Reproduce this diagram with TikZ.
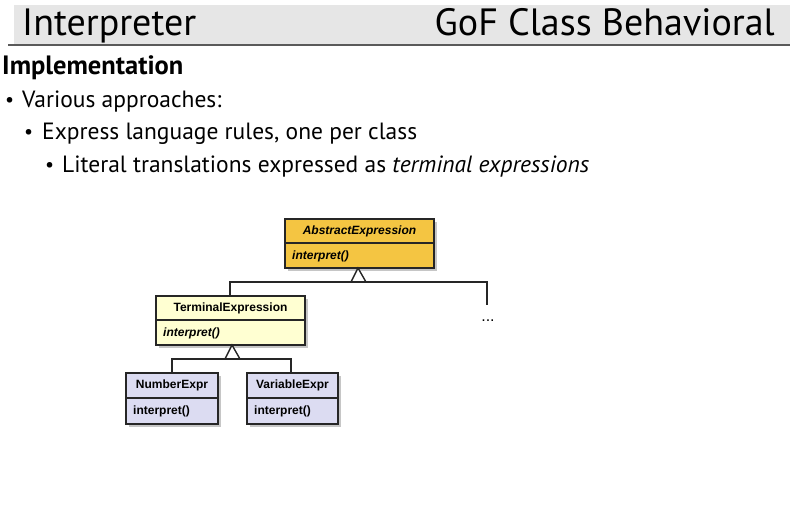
\documentclass[tikz,border=0pt]{standalone}
\usepackage{fontspec}
\setmainfont{PT Sans}
\newfontfamily\umlfont{Liberation Sans}
\definecolor{hdrgray}{HTML}{E6E6E6}
\definecolor{hdrline}{HTML}{5A5A5A}
\definecolor{absfill}{HTML}{F4C542}
\definecolor{termfill}{HTML}{FFFFD2}
\definecolor{leaffill}{HTML}{DCDCF2}
\definecolor{shadowgray}{HTML}{A0A0A0}
\tikzset{
  umlbox/.style={draw=black!85, line width=1.3pt},
  shadowbox/.style={fill=shadowgray, opacity=0.6},
  umltext/.style={font=\umlfont\fontsize{12}{14}\selectfont\bfseries, inner sep=0pt},
  conn/.style={draw=black!85, line width=1.4pt},
  bodytext/.style={anchor=base west, inner sep=0pt, font=\fontsize{23.5}{27}\selectfont},
  bulletmark/.style={anchor=base west, inner sep=0pt, font=\fontsize{20}{24}\selectfont},
}
\begin{document}
\begin{tikzpicture}[x=1pt,y=-1pt]
\useasboundingbox (0,0) rectangle (800,514);
% header
\fill[hdrgray] (14,5) rectangle (790,44);
\draw[hdrline, line width=1.2pt] (8,45) -- (790,45);
\node[anchor=base west, inner sep=0pt, font=\fontsize{38}{42}\selectfont] (title) at (22,35) {Interpreter};
\node[anchor=base east, inner sep=0pt, font=\fontsize{38}{42}\selectfont] (subtitle) at (775,35) {GoF Class Behavioral};
% body text
\node[anchor=base west, inner sep=0pt, font=\fontsize{26.5}{30}\selectfont\bfseries] (impl) at (2,74) {Implementation};
\node[bulletmark] (b1) at (5,106) {•};
\node[bodytext] (t1) at (22,107) {Various approaches:};
\node[bulletmark] (b2) at (24,138) {•};
\node[bodytext] (t2) at (42,139) {Express language rules, one per class};
\node[bulletmark] (b3) at (45,171) {•};
\node[bodytext] (t3) at (62,172) {Literal translations expressed as \textit{terminal expressions}};
% AbstractExpression
\fill[shadowbox] (288,222) rectangle (437,271);
\filldraw[umlbox, fill=absfill] (285,219) rectangle (434,268);
\draw[umlbox] (285,243) -- (434,243);
\node[umltext] (absname) at (359.5,231) {\itshape AbstractExpression};
\node[umltext, anchor=west] (absop) at (292,256) {\itshape interpret()};
\coordinate (absbot) at (358,268);
% TerminalExpression
\fill[shadowbox] (159,299) rectangle (308,348);
\filldraw[umlbox, fill=termfill] (156,296) rectangle (305,345);
\draw[umlbox] (156,320) -- (305,320);
\node[umltext] (termname) at (230.5,308) {TerminalExpression};
\node[umltext, anchor=west] (termop) at (163,333) {\itshape interpret()};
\coordinate (termtop) at (230,296);
\coordinate (termbot) at (232,345);
% NumberExpr
\fill[shadowbox] (129,376) rectangle (221,427);
\filldraw[umlbox, fill=leaffill] (126,373) rectangle (218,424);
\draw[umlbox] (126,398) -- (218,398);
\node[umltext] (numname) at (172,385.5) {NumberExpr};
\node[umltext, anchor=west] (numop) at (133,411) {interpret()};
\coordinate (numtop) at (172,373);
% VariableExpr
\fill[shadowbox] (250,376) rectangle (341,427);
\filldraw[umlbox, fill=leaffill] (247,373) rectangle (338,424);
\draw[umlbox] (247,398) -- (338,398);
\node[umltext] (varname) at (292.5,385.5) {VariableExpr};
\node[umltext, anchor=west] (varop) at (254,411) {interpret()};
\coordinate (vartop) at (291,373);
% connectors upper
\draw[conn, fill=white] (absbot) -- (366,282) -- (351,282) -- cycle;
\draw[conn] (termtop) -- (230,282) -- (487,282) -- (487,305) coordinate (moreend);
\node[inner sep=0pt, font=\umlfont\fontsize{16}{18}\selectfont] (more) at (488,321) {...};
% connectors lower
\draw[conn, fill=white] (termbot) -- (240,359) -- (225,359) -- cycle;
\draw[conn] (numtop) -- (172,359) -- (291,359) -- (vartop);
\end{tikzpicture}
\end{document}
